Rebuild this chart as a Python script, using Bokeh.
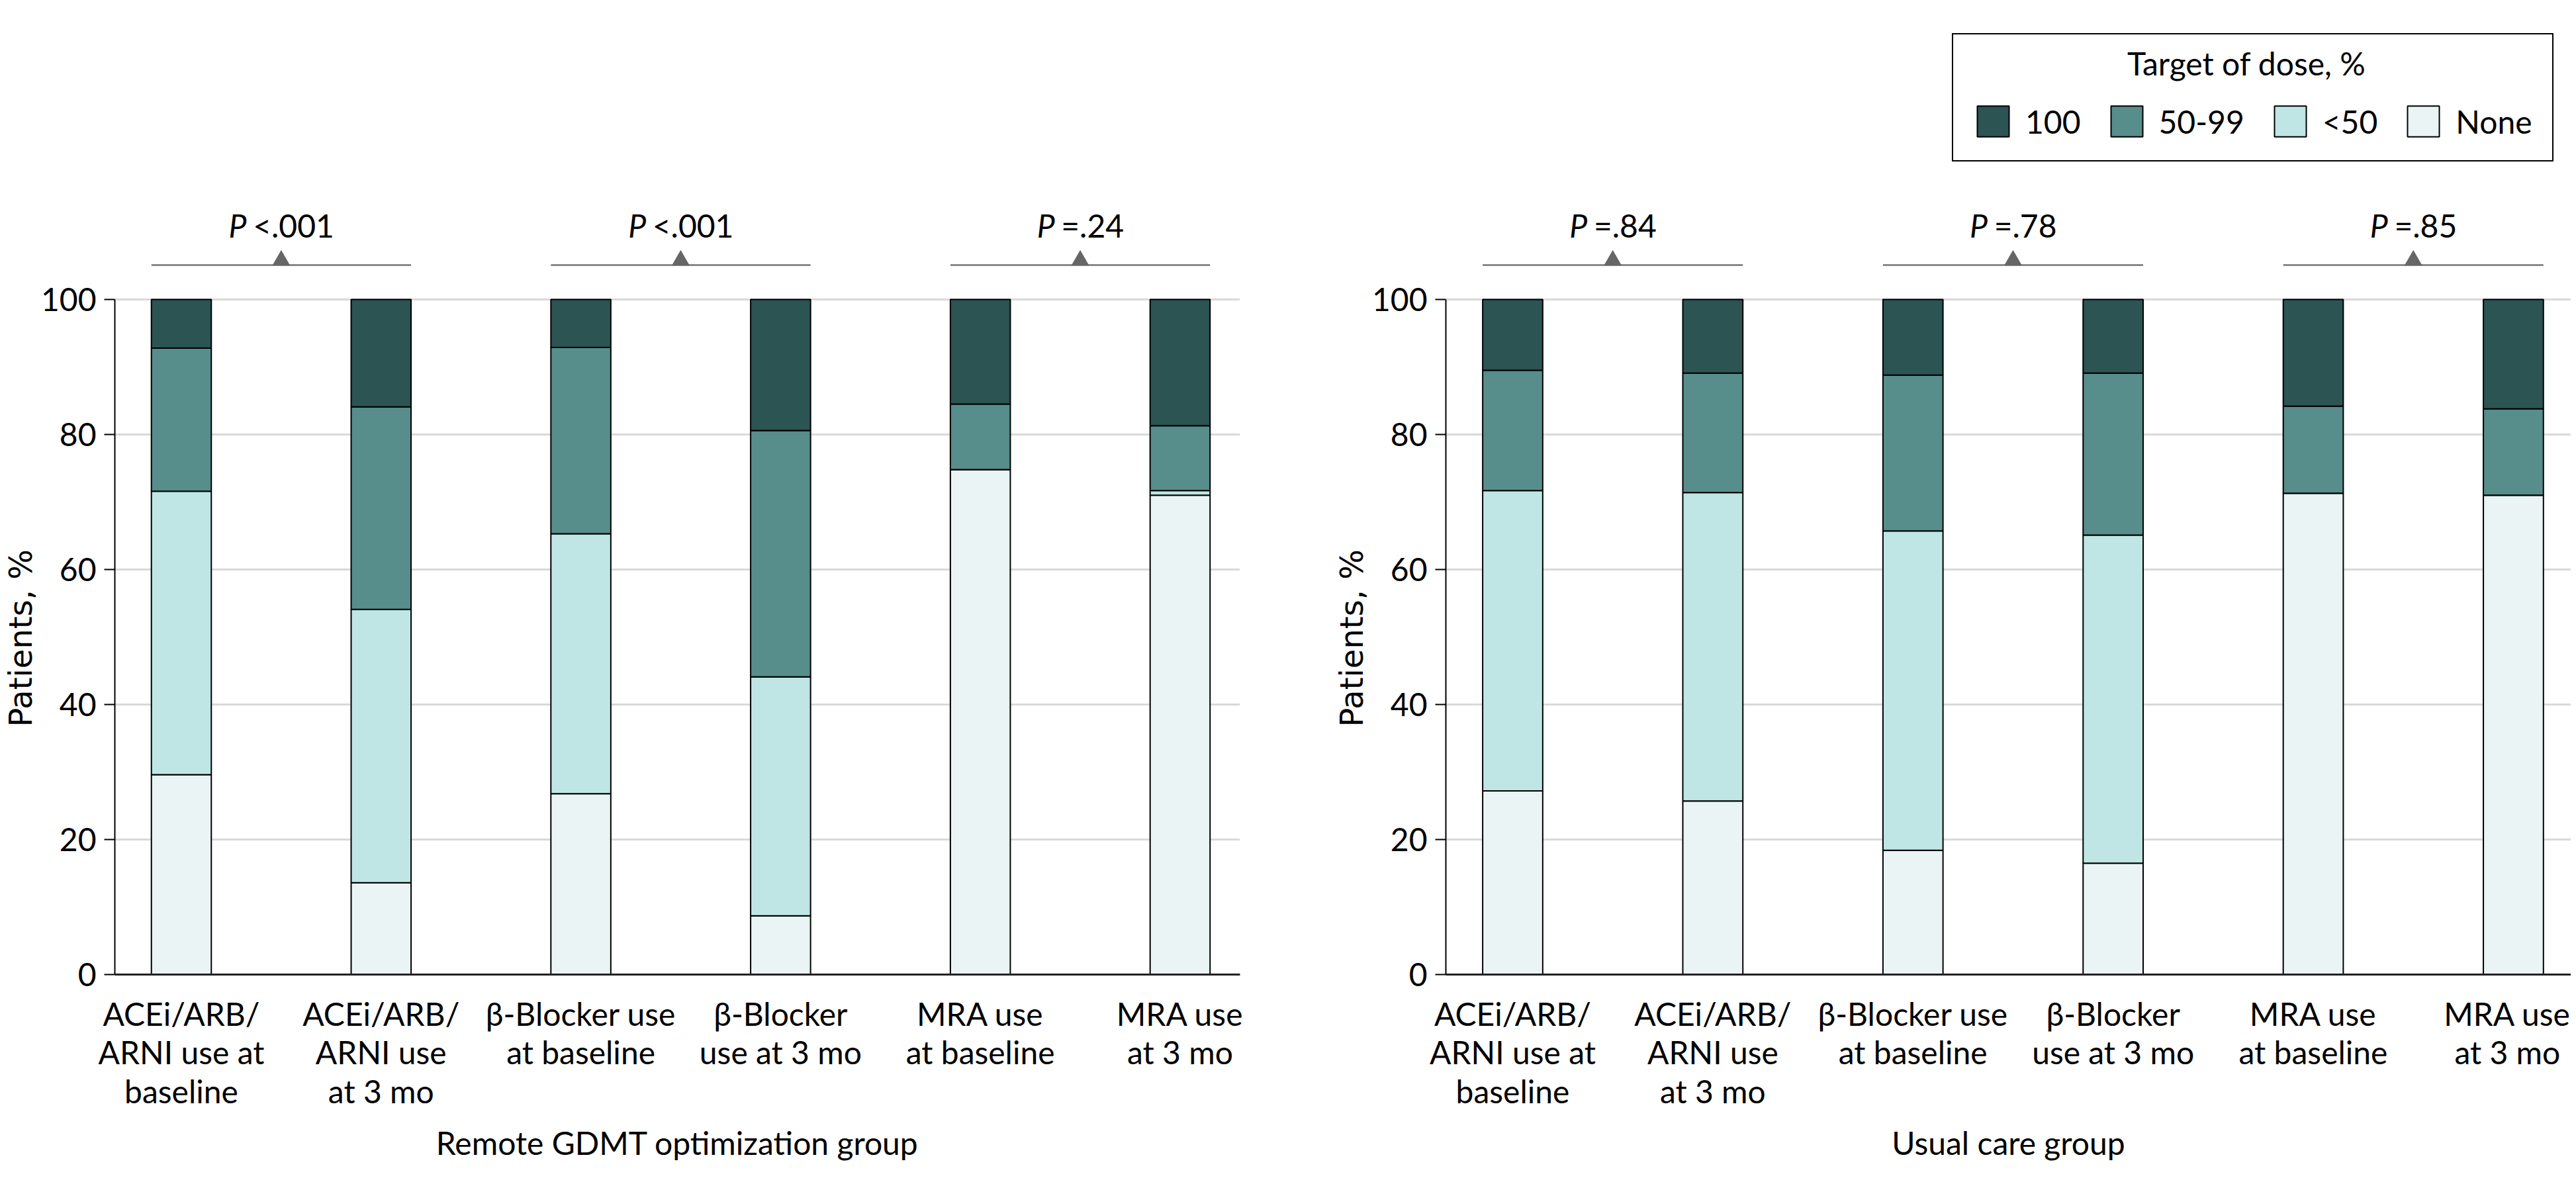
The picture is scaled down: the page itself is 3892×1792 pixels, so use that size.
from bokeh.plotting import figure
from bokeh.layouts import row
from bokeh.models import Range1d, FixedTicker, ColumnDataSource, Legend, LegendItem, Title
from bokeh.embed import file_html
from bokeh.resources import INLINE
from bokeh.core.properties import value

# ---------------- data ----------------
categories = [
    "ACEi/ARB/\nARNI use at\nbaseline",
    "ACEi/ARB/\nARNI use\nat 3 mo",
    "\u03b2-Blocker use\nat baseline",
    "\u03b2-Blocker\nuse at 3 mo",
    "MRA use\nat baseline",
    "MRA use\nat 3 mo",
]
series_labels = ["None", "<50", "50-99", "100"]

remote_none = [29.6, 13.6, 26.8, 8.7, 74.8, 71.0]
remote_lt50 = [42.0, 40.5, 38.5, 35.4, 0.0, 0.7]
remote_50_99 = [21.2, 30.0, 27.6, 36.5, 9.7, 9.6]
remote_100 = [7.2, 15.9, 7.1, 19.4, 15.5, 18.7]

usual_none = [27.2, 25.7, 18.4, 16.5, 71.3, 71.0]
usual_lt50 = [44.5, 45.7, 47.3, 48.6, 0.0, 0.0]
usual_50_99 = [17.8, 17.7, 23.1, 24.0, 12.9, 12.8]
usual_100 = [10.5, 10.9, 11.2, 10.9, 15.8, 16.2]

remote_p = ["<.001", "<.001", "=.24"]
usual_p = ["=.84", "=.78", "=.85"]

y_ticks = [0, 20, 40, 60, 80, 100]
y_title = "Patients, %"

# ---------------- style ----------------
FONT = "Lato"
FS = "48px"
COLORS = ["#eaf4f5", "#bfe6e4", "#578d8b", "#2b5453"]
BAR_W = 0.30
PX_PER_EM = 48.0
CHAR_W = {"<": 0.58, "=": 0.58, ".": 0.25}
Y_TOP = 140
FRAME_TOP = 44
FRAME_H = 1428
Y_TITLE_W = 272  # approx. rendered width of the y title (DejaVu Sans 48px)


def est_width(s):
    return sum(CHAR_W.get(c, 0.58) for c in s) * PX_PER_EM


def make_panel(vals, pvals, group_label, x_start, x_end, width, b_left, b_right, with_legend):
    positions = list(range(len(categories)))
    src = ColumnDataSource(dict(x=positions, none=vals[0], lt50=vals[1], mid=vals[2], full=vals[3]))
    p = figure(width=width, height=1790,
               x_range=Range1d(x_start, x_end), y_range=Range1d(0, Y_TOP),
               output_backend="svg", toolbar_location=None,
               min_border_left=b_left, min_border_right=b_right,
               min_border_top=FRAME_TOP, min_border_bottom=1790 - FRAME_TOP - FRAME_H)
    p.outline_line_color = None
    p.background_fill_color = "white"

    # grid
    p.xgrid.grid_line_color = None
    p.ygrid.ticker = FixedTicker(ticks=y_ticks)
    p.ygrid.grid_line_color = "#d9d9d9"
    p.ygrid.grid_line_width = 3

    rs = p.vbar_stack(["none", "lt50", "mid", "full"], x="x", width=BAR_W, source=src,
                      fill_color=COLORS, line_color="black", line_width=2)

    # y axis
    ya = p.yaxis[0]
    ya.ticker = FixedTicker(ticks=y_ticks)
    ya.bounds = (0, 100)
    ya.axis_line_color = "black"
    ya.axis_line_width = 2
    ya.major_tick_in = 0
    ya.major_tick_out = 16
    ya.major_tick_line_width = 2
    ya.minor_tick_line_color = None
    ya.major_label_text_font = FONT
    ya.major_label_text_font_size = FS
    ya.major_label_text_color = "black"
    ya.major_label_standoff = 12

    # y axis title, centred on the 0-100 part of the scale
    px_per_unit = FRAME_H / Y_TOP
    offset = 50 * px_per_unit - Y_TITLE_W / 2
    p.add_layout(Title(text=y_title, align="left", offset=offset, standoff=0,
                       text_font="DejaVu Sans", text_font_size=FS, text_font_style="normal",
                       text_color="black"), "left")

    # x axis
    xa = p.xaxis[0]
    xa.ticker = FixedTicker(ticks=positions)
    xa.major_label_overrides = {i: lab for i, lab in enumerate(categories)}
    xa.axis_line_color = "#222222"
    xa.axis_line_width = 3
    xa.major_tick_line_color = None
    xa.major_tick_in = 0
    xa.major_tick_out = 0
    xa.minor_tick_line_color = None
    xa.major_label_text_font = FONT
    xa.major_label_text_font_size = FS
    xa.major_label_text_color = "black"
    xa.major_label_text_line_height = 1.03
    xa.major_label_standoff = 30
    xa.axis_label = group_label
    xa.axis_label_text_font = FONT
    xa.axis_label_text_font_size = FS
    xa.axis_label_text_font_style = "normal"
    xa.axis_label_text_color = "black"
    xa.axis_label_standoff = 18

    # P-value brackets
    centers = [(positions[2 * i] + positions[2 * i + 1]) / 2 for i in range(len(pvals))]
    left_edges = [positions[2 * i] - BAR_W / 2 for i in range(len(pvals))]
    right_edges = [positions[2 * i + 1] + BAR_W / 2 for i in range(len(pvals))]
    y_line = 105.1
    p.segment(x0=left_edges, y0=[y_line] * len(pvals), x1=right_edges, y1=[y_line] * len(pvals),
              line_color="#737373", line_width=2.5)
    p.scatter(x=centers, y=[y_line + 0.7] * len(pvals), marker="triangle", size=27,
              fill_color="#666666", line_color=None)

    wP = 0.59 * PX_PER_EM
    wsp = 0.2 * PX_PER_EM
    p_off, r_off = [], []
    for s in pvals:
        total = wP + wsp + est_width(s)
        start = -total / 2
        p_off.append(start + wP)
        r_off.append(start + wP + wsp)
    y_txt = 111.0
    p.text(x=centers, y=[y_txt] * len(pvals), text=["P"] * len(pvals), x_offset=p_off,
           text_align="right", text_baseline="alphabetic", text_font=value(FONT),
           text_font_size=FS, text_font_style="italic", text_color="black")
    p.text(x=centers, y=[y_txt] * len(pvals), text=pvals, x_offset=r_off,
           text_align="left", text_baseline="alphabetic", text_font=value(FONT),
           text_font_size=FS, text_color="black")

    if with_legend:
        order = [3, 2, 1, 0]
        items = [LegendItem(label=series_labels[i], renderers=[rs[i]]) for i in order]
        legend = Legend(items=items, orientation="horizontal", location=(765, 1228),
                        title=" ", title_text_font=FONT, title_text_font_size=FS,
                        title_standoff=15,
                        label_text_font=FONT, label_text_font_size=FS, label_text_color="black",
                        glyph_width=60, glyph_height=58, label_standoff=19, spacing=39,
                        padding=30, margin=0, border_line_color="black", border_line_width=2,
                        border_line_alpha=1.0, background_fill_alpha=0.0)
        p.add_layout(legend)
        p.text(x=[3.667], y=[135.0], text=["Target of dose, %"], text_align="center",
               text_baseline="alphabetic", text_font=value(FONT), text_font_size=FS,
               text_color="black")
    return p


p1 = make_panel([remote_none, remote_lt50, remote_50_99, remote_100], remote_p,
                "Remote GDMT optimization group", -0.333, 5.300, 1908, 166, 35, False)
p2 = make_panel([usual_none, usual_lt50, usual_50_99, usual_100], usual_p,
                "Usual care group", -0.334, 5.288, 1976, 276, 0, True)

layout = row(p1, p2)
open("out.html", "w").write(file_html(layout, INLINE))
